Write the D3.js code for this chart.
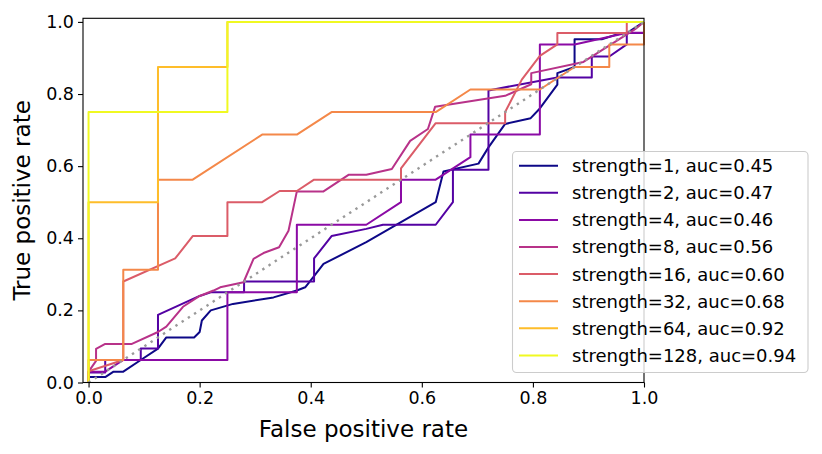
<!DOCTYPE html>
<html>
<head>
<meta charset="utf-8">
<script src="https://cdn.jsdelivr.net/npm/d3@7"></script>
<style>
  body { margin: 0; background: #fff; }
  text { font-family: "DejaVu Sans", sans-serif; }
</style>
</head>
<body>
<script>
// ROC curves, one per regularisation strength
const strengths = [1, 2, 4, 8, 16, 32, 64, 128];
const aucs = ["0.45", "0.47", "0.46", "0.56", "0.60", "0.68", "0.92", "0.94"];
const ticks = [0, 0.2, 0.4, 0.6, 0.8, 1.0];

const roc1 = [[0,0],[0,0.015],[0.03,0.015],[0.045,0.03],[0.0625,0.03],[0.094,0.0625],[0.125,0.094],[0.14,0.125],[0.19,0.125],[0.2,0.14],[0.204,0.172],[0.22,0.2],[0.26,0.218],[0.333,0.236],[0.375,0.255],[0.39,0.264],[0.406,0.295],[0.423,0.329],[0.5,0.389],[0.625,0.5],[0.639,0.585],[0.702,0.607],[0.72,0.652],[0.75,0.717],[0.796,0.733],[0.8125,0.76],[0.844,0.826],[0.844,0.858],[0.875,0.875],[0.875,0.952],[0.924,0.952],[0.953,0.966],[0.97,0.97],[1,1]];
const roc2 = [[0,0],[0,0.0275],[0.03,0.0275],[0.03,0.0625],[0.094,0.0625],[0.094,0.094],[0.125,0.094],[0.125,0.1875],[0.2,0.24],[0.22,0.25],[0.28,0.25],[0.28,0.28],[0.406,0.28],[0.406,0.344],[0.4375,0.406],[0.5,0.426],[0.53,0.4375],[0.625,0.4375],[0.656,0.5],[0.656,0.59],[0.72,0.59],[0.72,0.81],[0.844,0.846],[0.906,0.846],[0.906,0.904],[0.9375,0.904],[0.969,0.9375],[0.969,0.969],[1,0.969],[1,1]];
const roc4 = [[0,0],[0,0.03],[0.03,0.03],[0.0625,0.0625],[0.25,0.0625],[0.25,0.25],[0.375,0.25],[0.375,0.4375],[0.5,0.4375],[0.5625,0.5],[0.5625,0.5625],[0.625,0.5625],[0.6875,0.625],[0.6875,0.6875],[0.8125,0.6875],[0.8125,0.9375],[0.875,0.9375],[0.97,0.97],[1,0.97],[1,1]];
const roc8 = [[0,0],[0,0.03],[0.0135,0.06],[0.0135,0.093],[0.03,0.107],[0.078,0.107],[0.125,0.14],[0.14,0.155],[0.17,0.21],[0.2,0.24],[0.225,0.255],[0.237,0.264],[0.279,0.278],[0.297,0.343],[0.315,0.359],[0.343,0.375],[0.36,0.421],[0.375,0.53],[0.423,0.53],[0.468,0.576],[0.5,0.576],[0.546,0.592],[0.579,0.67],[0.611,0.703],[0.624,0.765],[0.75,0.795],[0.797,0.827],[0.797,0.858],[0.891,0.889],[0.984,0.98],[1,1]];
const roc16 = [[0,0],[0,0.031],[0.0625,0.0625],[0.0625,0.28],[0.156,0.344],[0.1875,0.406],[0.25,0.406],[0.25,0.5],[0.3125,0.5],[0.344,0.531],[0.375,0.531],[0.406,0.5625],[0.5625,0.5625],[0.5625,0.594],[0.625,0.719],[0.75,0.719],[0.75,0.75],[0.78,0.84],[0.8125,0.906],[0.844,0.9375],[0.844,0.969],[0.969,0.969],[0.969,1],[1,1]];
const roc32 = [[0,0],[0,0.0625],[0.0625,0.0625],[0.0625,0.3125],[0.125,0.3125],[0.125,0.5625],[0.1875,0.5625],[0.3125,0.6875],[0.375,0.6875],[0.4375,0.75],[0.625,0.75],[0.6875,0.8125],[0.8125,0.8125],[0.875,0.875],[0.9375,0.875],[0.9375,0.9375],[1,0.9375],[1,1]];
const roc64 = [[0,0],[0,0.5],[0.125,0.5],[0.125,0.875],[0.25,0.875],[0.25,1],[1,1]];
const roc128 = [[0,0],[0,0.75],[0.25,0.75],[0.25,1],[1,1]];
const curves = [roc1, roc2, roc4, roc8, roc16, roc32, roc64, roc128];

const W = 822, H = 454;
const mLeft = 83, mRight = 644, mTop = 18.3, mBottom = 382.5;

const svg = d3.select("body").append("svg")
  .attr("width", W).attr("height", H);

const x = d3.scaleLinear().domain([-0.01, 1.0]).range([mLeft, mRight]);
const y = d3.scaleLinear().domain([0, 1.01]).range([mBottom, mTop]);
const color = i => d3.interpolatePlasma(i / (strengths.length - 1));

const line = d3.line().x(d => x(d[0])).y(d => y(d[1]));

const plot = svg.append("g");

curves.forEach((c, i) => {
  plot.append("path")
    .datum(c)
    .attr("d", line)
    .attr("fill", "none")
    .attr("stroke", color(i))
    .attr("stroke-width", 2)
    .attr("stroke-linejoin", "round");
});

// chance diagonal
plot.append("path")
  .datum([[0, 0], [1, 1]])
  .attr("d", line)
  .attr("fill", "none")
  .attr("stroke", "#999")
  .attr("stroke-width", 2.4)
  .attr("stroke-dasharray", "2.4,5");

// axes
const xAxis = d3.axisBottom(x).tickValues(ticks).tickFormat(d3.format(".1f")).tickSize(5).tickSizeOuter(0);
const yAxis = d3.axisLeft(y).tickValues(ticks).tickFormat(d3.format(".1f")).tickSize(5).tickSizeOuter(0);

const gx = svg.append("g").attr("transform", `translate(0,${mBottom})`).call(xAxis);
const gy = svg.append("g").attr("transform", `translate(${mLeft},0)`).call(yAxis);
[gx, gy].forEach(g => {
  g.select(".domain").remove();
  g.selectAll(".tick line").attr("stroke", "#000").attr("stroke-width", 1.1);
  g.selectAll(".tick text").attr("fill", "#000").style("font-size", "17.5px")
    .style("font-family", "DejaVu Sans");
});
gx.selectAll(".tick text").attr("y", 9);
gy.selectAll(".tick text").attr("x", -9);

// frame
svg.append("rect")
  .attr("x", mLeft).attr("y", mTop)
  .attr("width", mRight - mLeft).attr("height", mBottom - mTop)
  .attr("fill", "none").attr("stroke", "#000").attr("stroke-width", 1.1);

svg.append("text")
  .attr("x", (mLeft + mRight) / 2).attr("y", 437)
  .attr("text-anchor", "middle")
  .style("font-size", "23px")
  .text("False positive rate");

svg.append("text")
  .attr("transform", `translate(30,${(mTop + mBottom) / 2}) rotate(-90)`)
  .attr("text-anchor", "middle")
  .style("font-size", "23px")
  .text("True positive rate");

// legend
const lg = svg.append("g");
lg.append("rect")
  .attr("x", 512.5).attr("y", 151.5)
  .attr("width", 295.5).attr("height", 221)
  .attr("rx", 4)
  .attr("fill", "#fff").attr("fill-opacity", 0.8)
  .attr("stroke", "#ccc").attr("stroke-width", 1.1);

strengths.forEach((s, i) => {
  const cy = 165.7 + i * 27.1;
  lg.append("line")
    .attr("x1", 519).attr("x2", 558)
    .attr("y1", cy).attr("y2", cy)
    .attr("stroke", color(i)).attr("stroke-width", 2);
  lg.append("text")
    .attr("x", 572).attr("y", cy)
    .attr("dy", "0.36em")
    .style("font-size", "18px")
    .text(`strength=${s}, auc=${aucs[i]}`);
});
</script>
</body>
</html>
